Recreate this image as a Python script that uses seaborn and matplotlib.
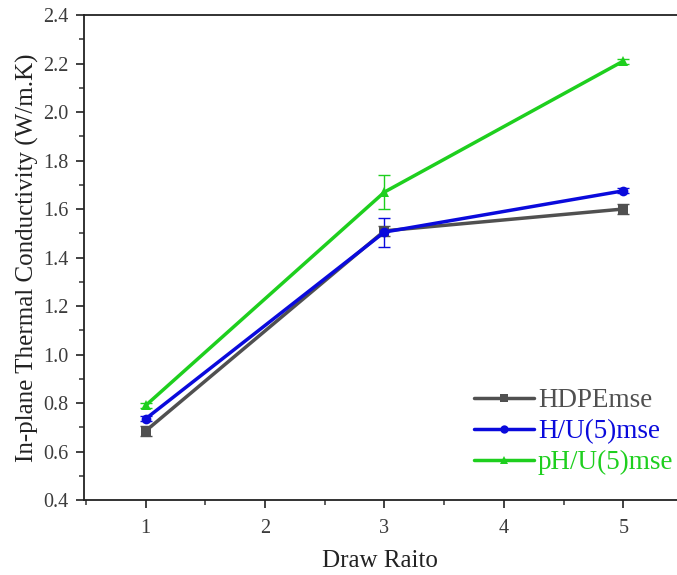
import numpy as np
import pandas as pd
import matplotlib
matplotlib.use("Agg")
import matplotlib.pyplot as plt
import seaborn as sns
from matplotlib.ticker import MultipleLocator

draw_ratio = [1, 3, 5]
hdpe = [0.685, 1.51, 1.60]
hdpe_err = [0.02, 0.02, 0.02]
hu5 = [0.735, 1.505, 1.675]
hu5_err = [0.01, 0.06, 0.01]
phu5 = [0.79, 1.67, 2.21]
phu5_err = [0.01, 0.07, 0.01]
series_names = ["HDPEmse", "H/U(5)mse", "pH/U(5)mse"]

sns.set_theme(style="white")
plt.rcParams['font.family'] = ['Liberation Serif', 'DejaVu Serif']

df = pd.DataFrame({
    "x": draw_ratio * 3,
    "y": hdpe + hu5 + phu5,
    "err": hdpe_err + hu5_err + phu5_err,
    "series": [s for s in series_names for _ in draw_ratio],
})

colors = {"HDPEmse": "#505050", "H/U(5)mse": "#0a0adc", "pH/U(5)mse": "#1ecf1e"}
markers = {"HDPEmse": "s", "H/U(5)mse": "o", "pH/U(5)mse": "^"}

fig = plt.figure(figsize=(6.77, 5.75), dpi=100)
ax = fig.add_axes([0.1235, 0.1304, 0.8765, 0.8435])

sns.lineplot(data=df, x="x", y="y", hue="series", style="series",
             palette=colors, markers=markers, dashes=False, linewidth=2.5,
             markersize=7, markeredgewidth=0, ax=ax, legend=True)

for name in series_names:
    sub = df[df.series == name]
    ax.errorbar(sub.x, sub.y, yerr=sub.err, fmt="none", ecolor=colors[name],
                elinewidth=1, capsize=4, capthick=1, zorder=1)

ax.set_xlim(0.48, 5.45)
ax.set_ylim(0.4, 2.4)
ax.xaxis.set_major_locator(MultipleLocator(1))
ax.xaxis.set_minor_locator(MultipleLocator(0.5))
ax.yaxis.set_minor_locator(MultipleLocator(0.1))
yt = np.arange(0.4, 2.41, 0.2)
ax.set_yticks(yt)
ax.set_yticklabels([f"{v:.1f}" for v in yt])
ax.tick_params(axis="both", which="major", direction="out", length=6, width=1.3,
               labelsize=14.5, colors="#333333", left=True, bottom=True)
ax.tick_params(axis="y", which="major", pad=5)
ax.tick_params(axis="x", which="major", pad=8)
ax.tick_params(axis="both", which="minor", direction="out", length=3.5, width=1.1,
               left=True, bottom=True, colors="#333333")
for lab in ax.get_xticklabels() + ax.get_yticklabels():
    lab.set_color("#3c3c3c")

for s in ["left", "bottom", "top"]:
    ax.spines[s].set_color("#222222")
    ax.spines[s].set_linewidth(1.3)
ax.spines["right"].set_visible(False)

ax.set_xlabel("Draw Raito", fontsize=18, color="#222222", labelpad=8)
ax.set_ylabel("In-plane Thermal Conductivity (W/m.K)", fontsize=18, color="#222222", labelpad=3)

leg = ax.legend(loc="lower right", bbox_to_anchor=(1.012, 0.029), frameon=False,
                fontsize=19.5, handlelength=2.2, labelspacing=0.22, handletextpad=0.15,
                borderaxespad=0.0)
for text, name in zip(leg.get_texts(), series_names):
    text.set_color(colors[name])
for h in leg.legend_handles:
    h.set_markersize(6)

fig.savefig("out.png", dpi=100)
